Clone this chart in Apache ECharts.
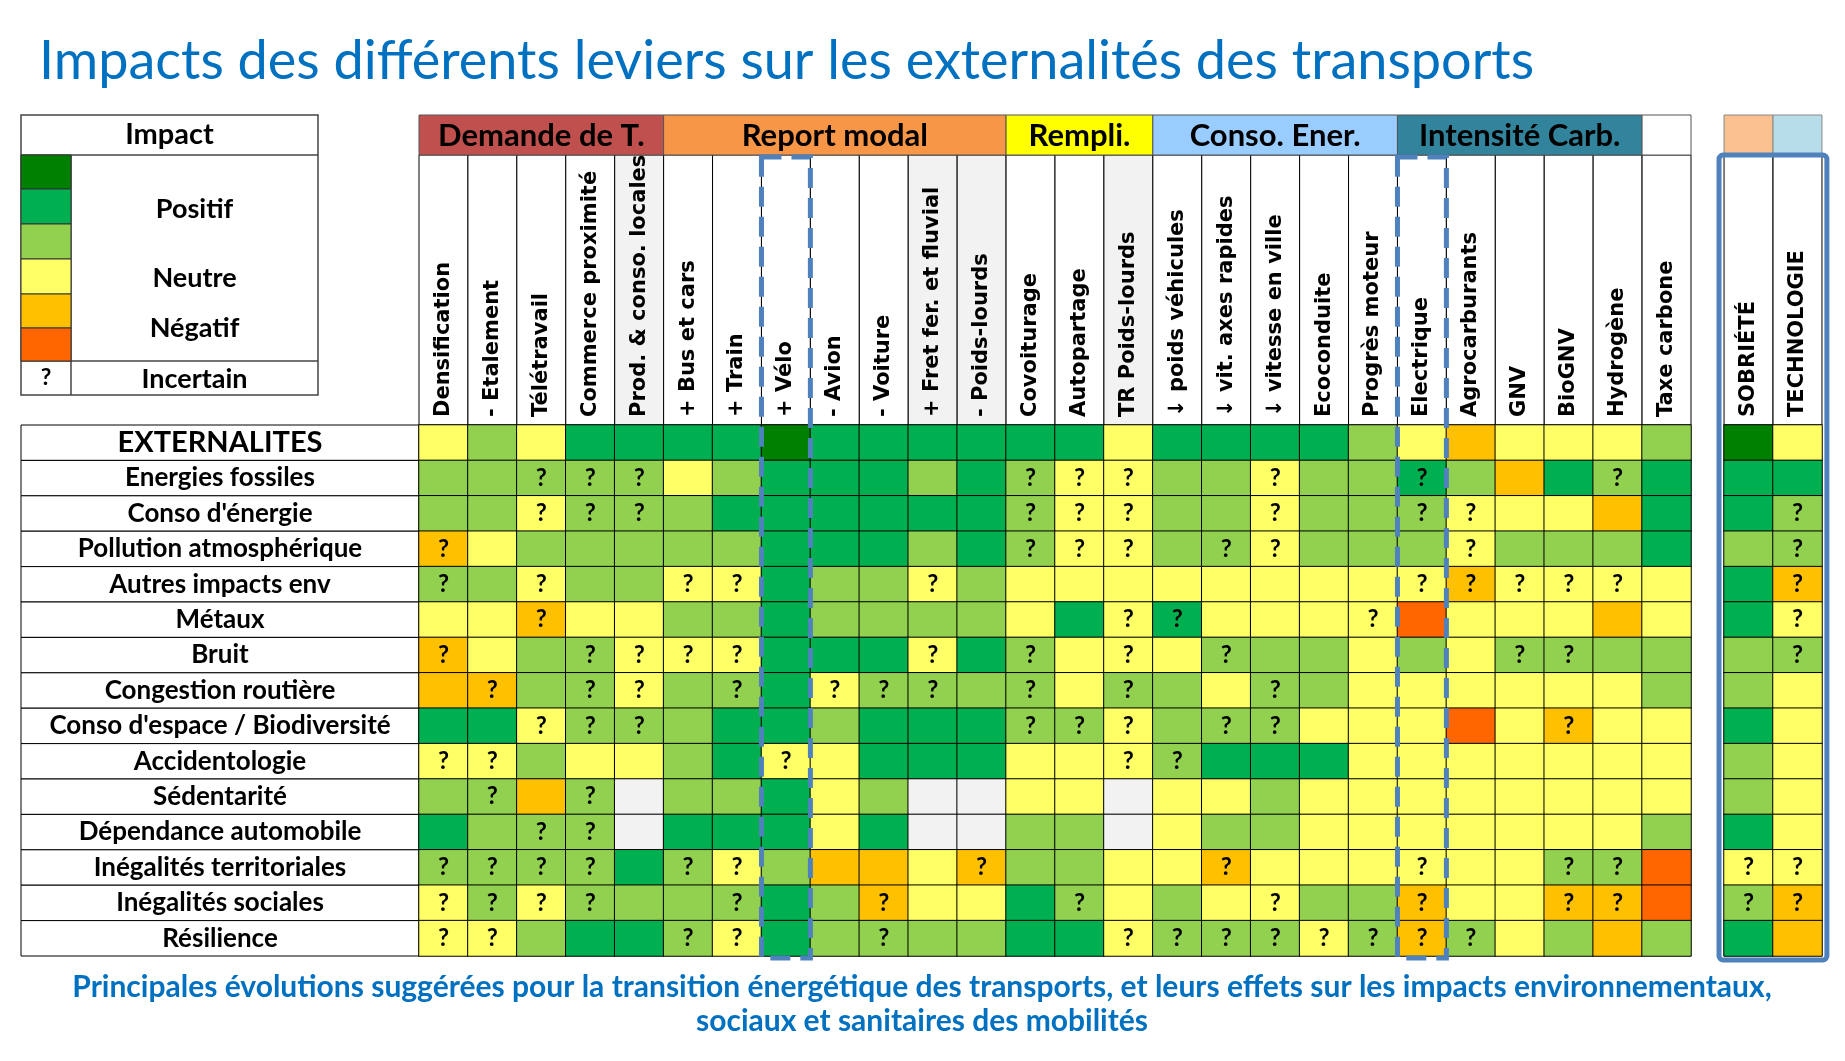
<!DOCTYPE html>
<html>
<head>
<meta charset="utf-8">
<script src="https://cdn.jsdelivr.net/npm/echarts@6/dist/echarts.min.js"></script>
<style>
  html, body { margin: 0; padding: 0; background: #fff; }
  #chart { width: 1845px; height: 1061px; }
</style>
</head>
<body>
<div id="chart"></div>
<script>
// leviers (colonnes)
const columns = [
  'Densification', '- Etalement', 'Télétravail', 'Commerce proximité', 'Prod. & conso. locales',
  '+ Bus et cars', '+ Train', '+ Vélo', '- Avion', '- Voiture', '+ Fret fer. et fluvial', '- Poids-lourds',
  'Covoiturage', 'Autopartage', 'TR Poids-lourds',
  '↓ poids véhicules', '↓ vit. axes rapides', '↓ vitesse en ville', 'Ecoconduite', 'Progrès moteur',
  'Electrique', 'Agrocarburants', 'GNV', 'BioGNV', 'Hydrogène', 'Taxe carbone'
];
const greyColumns = [4, 10, 11, 14];
const extraColumns = ['SOBRIÉTÉ', 'TECHNOLOGIE'];

// externalités (lignes)
const rows = [
  'EXTERNALITES', 'Energies fossiles', "Conso d'énergie", 'Pollution atmosphérique', 'Autres impacts env',
  'Métaux', 'Bruit', 'Congestion routière', "Conso d'espace / Biodiversité", 'Accidentologie',
  'Sédentarité', 'Dépendance automobile', 'Inégalités territoriales', 'Inégalités sociales', 'Résilience'
];

// groupes de leviers
const groupNames = ['Demande de T.', 'Report modal', 'Rempli.', 'Conso. Ener.', 'Intensité Carb.', ''];
const groupSpans = [[0, 4], [5, 11], [12, 14], [15, 19], [20, 24], [25, 25]];
const groupColors = ['#C0504D', '#F79646', '#FFFF00', '#99CCFF', '#31849B', '#FFFFFF'];

// 0 très positif ... 5 très négatif, 6 sans objet ; "?" = incertain
const impactMain = [
  '3 2 3 1 1 1 1 0 1 1 1 1 1 1 3 1 1 1 1 2 3 4 3 3 3 2',
  '2 2 2? 2? 2? 3 2 1 1 1 2 1 2? 3? 3? 2 2 3? 2 2 1? 2 4 1 2? 1',
  '2 2 3? 2? 2? 2 1 1 1 1 1 1 2? 3? 3? 2 2 3? 2 2 2? 3? 3 3 4 1',
  '4? 3 2 2 2 2 2 1 1 1 2 1 2? 3? 3? 2 2? 3? 2 2 2 3? 2 2 2 1',
  '2? 2 3? 2 2 3? 3? 1 2 2 3? 2 3 3 3 3 3 3 3 3 3? 4? 3? 3? 3? 3',
  '3 3 4? 3 3 2 2 1 2 2 2 2 3 1 3? 1? 3 3 3 3? 5 3 3 3 4 3',
  '4? 3 2 2? 3? 3? 3? 1 1 1 3? 1 2? 3 3? 3 2? 2 2 3 2 3 2? 2? 2 2',
  '4 4? 2 2? 3? 2 2? 1 3? 2? 2? 2 2? 3 2? 2 3 2? 2 3 3 3 3 3 3 2',
  '1 1 3? 2? 2? 2 1 1 2 1 1 1 2? 2? 3? 2 2? 2? 3 3 3 5 3 4? 3 3',
  '3? 3? 2 3 3 2 1 3? 3 1 1 1 3 3 3? 2? 1 1 1 3 3 3 3 3 3 3',
  '2 2? 4 2? 6 2 2 1 3 2 6 6 3 3 6 3 3 2 3 3 3 3 3 3 3 3',
  '1 2 2? 2? 6 1 1 1 3 1 6 6 2 2 6 3 2 2 3 3 3 3 3 3 3 2',
  '2? 2? 2? 2? 1 2? 3? 2 4 4 3 4? 2 2 3 3 4? 3 3 3 3? 3 3 2? 2? 5',
  '3? 2? 3? 2? 2 2 2? 1 2 4? 3 3 1 2? 3 2 3 3? 2 2 4? 3 3 4? 4? 5',
  '3? 3? 2 1 1 2? 3? 1 2 2? 2 2 1 1 3? 2? 2? 2? 3? 2? 4? 2? 3 2 4 2'
];
const impactExtra = [
  '0 3', '1 1', '1 2?', '2 2?', '1 4?', '1 3?', '2 2?', '2 3', '1 3', '2 3', '2 3', '1 3', '3? 3?', '2? 4?', '1 4'
];

const levelColors = ['#008000', '#00B050', '#92D050', '#FFFF66', '#FFC000', '#FF6600', '#F2F2F2'];
const BLUE = '#4F81BD';
const TXT = '#0070C0';

function toData(lines) {
  const out = [];
  lines.forEach((line, y) => {
    line.split(' ').forEach((tok, x) => {
      out.push([x, y, parseInt(tok, 10), tok.endsWith('?') ? 1 : 0]);
    });
  });
  return out;
}

const chart = echarts.init(document.getElementById('chart'));

const cellLabel = {
  show: true,
  formatter: p => (p.data[3] ? '?' : ''),
  color: '#000',
  fontFamily: 'Lato',
  fontWeight: 'bold',
  fontSize: 24
};

function xAxisFor(gi, data) {
  return {
    type: 'category', gridIndex: gi, data: data, position: 'top',
    axisLine: { show: false }, axisTick: { show: false }, splitLine: { show: false },
    axisLabel: { show: false }
  };
}

chart.setOption({
  animation: false,
  title: {
    text: 'Impacts des différents leviers sur les externalités des transports',
    left: 34, top: 30,
    textStyle: { fontFamily: 'Lato', fontWeight: 'normal', fontSize: 54, color: TXT }
  },
  grid: [
    { left: 419, top: 425, width: 1272, height: 531 },
    { left: 1724, top: 425, width: 98, height: 531 }
  ],
  xAxis: [xAxisFor(0, columns), xAxisFor(1, extraColumns)],
  yAxis: [
    {
      type: 'category', gridIndex: 0, data: rows, inverse: true,
      axisLine: { show: false }, axisTick: { show: false },
      axisLabel: {
        margin: 199, align: 'center', interval: 0, color: '#000', fontFamily: 'Lato', fontWeight: 'bold',
        fontSize: 26,
        formatter: v => (v === 'EXTERNALITES' ? '{big|' + v + '}' : v),
        rich: { big: { fontFamily: 'Lato', fontWeight: 'bold', fontSize: 29, color: '#000' } }
      }
    },
    {
      type: 'category', gridIndex: 1, data: rows, inverse: true,
      axisLine: { show: false }, axisTick: { show: false }, axisLabel: { show: false }
    }
  ],
  visualMap: {
    type: 'piecewise', show: false, dimension: 2, seriesIndex: [0, 1],
    pieces: levelColors.map((c, i) => ({ value: i, color: c }))
  },
  series: [
    {
      type: 'heatmap', xAxisIndex: 0, yAxisIndex: 0, data: toData(impactMain),
      itemStyle: { borderColor: '#000', borderWidth: 1 }, label: cellLabel
    },
    {
      type: 'heatmap', xAxisIndex: 1, yAxisIndex: 1, data: toData(impactExtra),
      itemStyle: { borderColor: '#000', borderWidth: 1 }, label: cellLabel
    }
  ],
  textStyle: { fontFamily: 'Lato' }
});

// décor : en-têtes, tableau de légende, cadres
function px(gi, x, y) { return chart.convertToPixel({ gridIndex: gi }, [x, y]); }
const cw = px(0, 1, 0)[0] - px(0, 0, 0)[0];
const rh = px(0, 0, 1)[1] - px(0, 0, 0)[1];
const top0 = px(0, 0, 0)[1] - rh / 2;
const bottom0 = top0 + rh * rows.length;
const hdrTop = 115, hdrMid = 155;
const g = [];

function colHeader(gi, list, fills) {
  list.forEach((c, i) => {
    const cx = px(gi, i, 0)[0];
    g.push({ type: 'rect', z: -1, shape: { x: cx - cw / 2, y: hdrMid, width: cw, height: top0 - hdrMid },
      style: { fill: fills(i), stroke: '#000', lineWidth: 1 } });
    g.push({ type: 'text', z: 5, x: cx, y: top0 - 8, rotation: Math.PI / 2,
      style: { text: c, align: 'left', verticalAlign: 'middle', fill: '#000',
        font: 'bold 21px "DejaVu Sans"' } });
  });
}
colHeader(0, columns, i => (greyColumns.includes(i) ? '#F2F2F2' : '#fff'));
colHeader(1, extraColumns, () => '#fff');
extraColumns.forEach((c, i) => {
  const x = px(1, i, 0)[0] - cw / 2;
  g.push({ type: 'rect', z: -1, shape: { x: x, y: hdrTop, width: cw, height: hdrMid - hdrTop },
    style: { fill: i === 0 ? '#FAC090' : '#B7DEE8', stroke: '#888', lineWidth: 1 } });
});
groupNames.forEach((name, i) => {
  const x0 = px(0, groupSpans[i][0], 0)[0] - cw / 2;
  const x1 = px(0, groupSpans[i][1], 0)[0] + cw / 2;
  g.push({ type: 'rect', z: -1, shape: { x: x0, y: hdrTop, width: x1 - x0, height: hdrMid - hdrTop },
    style: { fill: groupColors[i], stroke: '#555', lineWidth: 1 } });
  g.push({ type: 'text', z: 5, x: (x0 + x1) / 2, y: (hdrTop + hdrMid) / 2 + 1,
    style: { text: name, align: 'center', verticalAlign: 'middle', fill: '#000',
      font: 'bold 31px Lato' } });
});
rows.forEach((r, j) => {
  g.push({ type: 'rect', z: -1, shape: { x: 21, y: top0 + j * rh, width: 419 - 21, height: rh },
    style: { fill: '#fff', stroke: '#000', lineWidth: 1 } });
});

// légende
const legX = 21, legW = 297, legC = 50;
const legRows = [155, 189, 224, 259, 294, 328, 361, 395];
g.push({ type: 'rect', z: -1, shape: { x: legX, y: 115, width: legW, height: 395 - 115 },
  style: { fill: '#fff', stroke: '#444', lineWidth: 1.5 } });
g.push({ type: 'line', shape: { x1: legX, y1: 155, x2: legX + legW, y2: 155 }, style: { stroke: '#444', lineWidth: 1.5 } });
g.push({ type: 'line', shape: { x1: legX, y1: 361, x2: legX + legW, y2: 361 }, style: { stroke: '#444', lineWidth: 1.5 } });
g.push({ type: 'line', shape: { x1: legX + legC, y1: 155, x2: legX + legC, y2: 395 }, style: { stroke: '#444', lineWidth: 1.5 } });
for (let i = 0; i < 6; i++) {
  g.push({ type: 'rect', shape: { x: legX, y: legRows[i], width: legC, height: legRows[i + 1] - legRows[i] },
    style: { fill: levelColors[i], stroke: '#333', lineWidth: 1 } });
}
const legText = [['Impact', 135, 29], ['Positif', 209, 27], ['Neutre', 278, 27], ['Négatif', 328, 27], ['Incertain', 379, 27]];
legText.forEach(t => {
  g.push({ type: 'text', x: t[0] === 'Impact' ? legX + legW / 2 : legX + legC + (legW - legC) / 2, y: t[1],
    style: { text: t[0], align: 'center', verticalAlign: 'middle', fill: '#000', font: 'bold ' + t[2] + 'px Lato' } });
});
g.push({ type: 'text', x: legX + legC / 2, y: 378,
  style: { text: '?', align: 'center', verticalAlign: 'middle', fill: '#000', font: 'bold 23px Lato' } });

// cadres pointillés (Vélo, Electrique) et cadre plein (Sobriété / Technologie)
[7, 20].forEach(i => {
  const x = px(0, i, 0)[0] - cw / 2;
  g.push({ type: 'rect', z: 100, shape: { x: x, y: hdrMid + 2, width: cw, height: bottom0 - hdrMid },
    style: { fill: 'none', stroke: BLUE, lineWidth: 5, lineDash: [20, 10] } });
});
const sx = px(1, 0, 0)[0] - cw / 2;
g.push({ type: 'rect', z: 100, shape: { x: sx - 5, y: hdrMid, width: 2 * cw + 10, height: bottom0 - hdrMid + 4, r: 4 },
  style: { fill: 'none', stroke: BLUE, lineWidth: 5 } });

// légende de la figure
g.push({ type: 'text', x: 922, y: 987,
  style: { text: 'Principales évolutions suggérées pour la transition énergétique des transports, et leurs effets sur les impacts environnementaux,',
    align: 'center', verticalAlign: 'middle', fill: TXT, font: 'bold 30px Lato' } });
g.push({ type: 'text', x: 922, y: 1021,
  style: { text: 'sociaux et sanitaires des mobilités',
    align: 'center', verticalAlign: 'middle', fill: TXT, font: 'bold 30px Lato' } });

chart.setOption({ graphic: { elements: g } });
</script>
</body>
</html>
